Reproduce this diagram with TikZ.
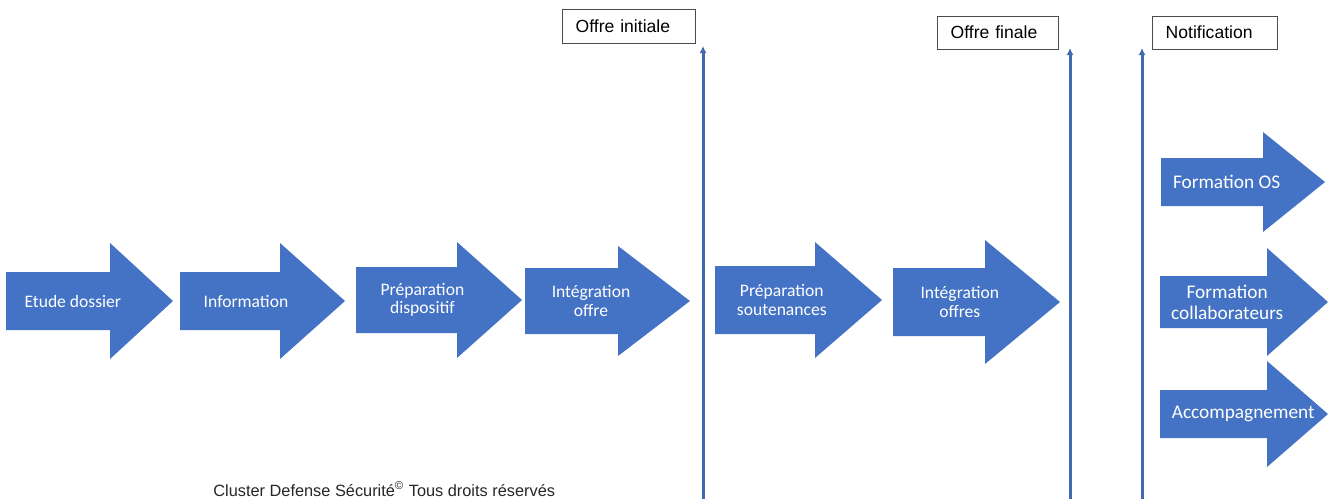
\documentclass[tikz,border=0pt]{standalone}
\usepackage{fontspec}
\setmainfont{Liberation Sans}
\newfontfamily\calibri{Carlito}
\usetikzlibrary{arrows.meta}

\definecolor{stepblue}{HTML}{4472C4}
\definecolor{lineblue}{HTML}{4169B0}

\tikzset{
  stepfill/.style={fill=stepblue},
  steptext/.style={text=white, font=\calibri\fontsize{10}{10.5}\selectfont, align=center, inner sep=0pt},
  milestone/.style={draw=black!70, line width=0.8pt, anchor=north west, inner xsep=0.26cm,
    align=left, font=\fontsize{10}{12}\selectfont, text height=1.2ex},
  stage/.style={lineblue, line width=1.7pt, -{Latex[length=4pt,width=4pt]}}
}

% name, left, head x, tip, centre y, half body, half head, node options, text
\newcommand{\steparrow}[9]{%
  \fill[stepfill] (#2,#5-#6) -- (#3,#5-#6) -- (#3,#5-#7) -- (#4,#5)
    -- (#3,#5+#7) -- (#3,#5+#6) -- (#2,#5+#6) -- cycle;
  \node[steptext,#8] (#1) at ({#2+0.4*(#4-#2)},#5) {#9};}

\begin{document}
\begin{tikzpicture}[x=0.02cm, y=-0.02cm]
  \useasboundingbox (0,0) rectangle (1336,498);

  % main row
  \steparrow{etude}{6}{110}{173}{301}{29}{58}{}{Etude dossier}
  \steparrow{info}{180}{280}{345}{301}{29}{58}{}{Information}
  \steparrow{prepdisp}{356}{457}{522}{300}{33}{58}{}{Préparation\\dispositif}
  \steparrow{integ}{525}{618}{690}{301}{33}{55}{}{Intégration\\offre}
  \steparrow{prepsout}{715}{815}{882}{300}{34}{58}{}{Préparation\\soutenances}
  \steparrow{integs}{893}{985}{1060}{302}{34}{62}{}{Intégration\\offres}

  % after notification
  \steparrow{formos}{1161}{1263}{1325}{182}{24}{50}{font=\calibri\fontsize{11}{12}\selectfont}{Formation OS}
  \steparrow{formcol}{1160}{1267}{1328}{302}{26}{54}{font=\calibri\fontsize{11}{12}\selectfont}{Formation\\collaborateurs}
  \steparrow{accomp}{1160}{1267}{1328}{414}{24}{53}{xshift=16*0.02cm, font=\calibri\fontsize{11}{12}\selectfont}{Accompagnement}

  % milestones
  \node[milestone, minimum width=2.66cm, minimum height=0.68cm, text width=2.14cm] (initiale) at (562,9) {Offre initiale};
  \node[milestone, minimum width=2.42cm, minimum height=0.66cm, text width=1.9cm] (finale) at (937,16) {Offre finale};
  \node[milestone, minimum width=2.5cm, minimum height=0.66cm, text width=1.98cm] (notif) at (1152,16) {Notification};

  \coordinate (base1) at (703,500);
  \coordinate (top1) at (703,46);
  \coordinate (base2) at (1070,500);
  \coordinate (top2) at (1070,48);
  \coordinate (base3) at (1142,500);
  \coordinate (top3) at (1142,48);
  \draw[stage] (base1) -- (top1);
  \draw[stage] (base2) -- (top2);
  \draw[stage] (base3) -- (top3);

  \node[anchor=base west, inner sep=0pt, text=black!85, font=\fontsize{9.3}{11}\selectfont] (footer) at (213,496)
    {Cluster Defense Sécurité\textsuperscript{©} Tous droits réservés};
\end{tikzpicture}
\end{document}
